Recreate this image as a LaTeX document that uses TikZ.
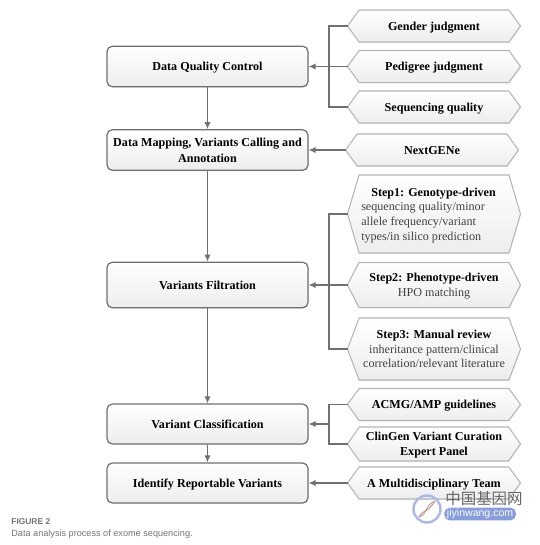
\documentclass[tikz,border=0pt]{standalone}
\usepackage{fontspec}
\setmainfont{Liberation Serif}
\setsansfont{Liberation Sans}
\newfontfamily\cjkfont{Noto Sans CJK SC}
\usetikzlibrary{
    arrows.meta,   % For arrow tips
    shapes.symbols,% For the signal shape
    shadows        % For the box shadows
}
\definecolor{linegray}{RGB}{112,112,112}
\definecolor{edgegray}{RGB}{180,183,183}
\definecolor{markblue}{RGB}{135,155,225}

\begin{document}
\begin{tikzpicture}[
    x=0.02cm, y=-0.02cm,
    >={Latex[length=4pt,width=3.6pt]}, % Set default arrow tip style
    flowbox/.style={draw=linegray, line width=0.7pt, rounded corners=3pt, minimum width=201*0.02cm,
        top color=white, bottom color=black!7, drop shadow={opacity=0.18, shadow xshift=0.3pt, shadow yshift=-0.5pt},
        align=center, inner sep=1pt, text depth=0pt, font=\fontsize{6.9}{9.2}\selectfont\bfseries}, % Style for left boxes
    hexbox/.style={shape=signal, signal from=nowhere, signal to=west and east, draw=edgegray, line width=0.6pt,
        minimum width=173*0.02cm, inner xsep=1pt, inner ysep=0pt, outer sep=0pt, text=black!75,
        top color=white, bottom color=black!7, drop shadow={opacity=0.15, shadow xshift=0.3pt, shadow yshift=-0.5pt},
        align=center, text depth=0pt, font=\fontsize{6.9}{8.4}\selectfont}, % Style for right boxes
    flow/.style={->, draw=linegray, line width=0.7pt}, % Style for connectors
    trunk/.style={draw=linegray, line width=0.7pt}, % Style for the bracket lines
    captionstyle/.style={anchor=west, inner sep=0pt, text=black!55, font=\sffamily\fontsize{5.2}{6}\selectfont}
]
    \useasboundingbox (0,0) rectangle (539,545);

    % Left column
    \node[flowbox, minimum height=40.5*0.02cm] (qc) at (207.5,66.5) {Data Quality Control};
    \node[flowbox, minimum height=40.5*0.02cm] (mapping) at (207.5,150) {Data Mapping, Variants Calling and\\Annotation};
    \node[flowbox, minimum height=45.5*0.02cm] (filtration) at (207.5,285) {Variants Filtration};
    \node[flowbox, minimum height=40*0.02cm] (classification) at (207.5,424) {Variant Classification};
    \node[flowbox, minimum height=40*0.02cm] (reportable) at (207.5,483) {Identify Reportable Variants};

    % Right column
    \node[hexbox, minimum height=32*0.02cm, signal pointer angle=108] (gender) at (434,26) {\bfseries\color{black}Gender judgment};
    \node[hexbox, minimum height=32*0.02cm, signal pointer angle=108] (pedigree) at (434,66.5) {\bfseries\color{black}Pedigree judgment};
    \node[hexbox, minimum height=32*0.02cm, signal pointer angle=108] (seqquality) at (434,107) {\bfseries\color{black}Sequencing quality};
    \node[hexbox, minimum height=32*0.02cm, signal pointer angle=108] (nextgene) at (432,150) {\bfseries\color{black}NextGENe};
    \node[hexbox, minimum height=78*0.02cm, signal pointer angle=147, align=left] (step1) at (434,214) {\hspace*{5.7pt}{\bfseries\color{black}Step1: Genotype-driven}\hspace*{6.2pt}\\sequencing quality/minor\\allele frequency/variant\\types/in silico prediction};
    \node[hexbox, minimum height=45*0.02cm, signal pointer angle=126] (step2) at (434,285) {{\bfseries\color{black}Step2: Phenotype-driven}\\HPO matching};
    \node[hexbox, minimum height=62*0.02cm, signal pointer angle=139] (step3) at (434,349) {{\bfseries\color{black}Step3: Manual review}\\inheritance pattern/clinical\\correlation/relevant literature};
    \node[hexbox, minimum height=32*0.02cm, signal pointer angle=108] (acmg) at (434,404.5) {\bfseries\color{black}ACMG/AMP guidelines};
    \node[hexbox, minimum height=34*0.02cm, signal pointer angle=110] (clingen) at (434,444) {\bfseries\color{black}ClinGen Variant Curation\\\bfseries\color{black}Expert Panel};
    \node[hexbox, minimum height=32*0.02cm, signal pointer angle=108] (team) at (434,483) {\bfseries\color{black}A Multidisciplinary Team};

    % Join points
    \coordinate (qcjoin) at (329,66.5);
    \coordinate (filtjoin) at (329,285);
    \coordinate (classjoin) at (329,424);

    % Down the left column
    \draw[flow] (qc) -- (mapping);
    \draw[flow] (mapping) -- (filtration);
    \draw[flow] (filtration) -- (classification);
    \draw[flow] (classification) -- (reportable);

    % Into the left column
    \draw[trunk] (gender.west) -| (qcjoin) |- (seqquality.west);
    \draw[flow] (pedigree.west) -- (qc.east);
    \draw[flow] (nextgene.west) -- (mapping.east);
    \draw[trunk] (step1.west) -| (filtjoin) |- (step3.west);
    \draw[flow] (step2.west) -- (filtration.east);
    \draw[trunk] (acmg.west) -| (classjoin) |- (clingen.west);
    \draw[flow] (classjoin) -- (classification.east);
    \draw[flow] (team.west) -- (reportable.east);

    % Caption
    \node[captionstyle, font=\sffamily\bfseries\fontsize{4.8}{6}\selectfont] (figlabel) at (11,522) {FIGURE 2};
    \node[captionstyle] (figcaption) at (11,534) {Data analysis process of exome sequencing.};

    % Site mark
    \node[circle, draw=markblue!70, line width=1.4pt, minimum size=27*0.02cm, inner sep=0pt] (markring) at (427,509) {};
    \draw[red!45!black!45, line width=0.5pt] (419,517) .. controls (424,508) and (426,515) .. (435,501);
    \draw[red!45!black!45, line width=0.5pt] (419,517) .. controls (428,514) and (424,506) .. (435,501);
    \node[anchor=west, inner sep=0pt, text=black!60, font=\cjkfont\fontsize{8.8}{9}\selectfont] (marktitle) at (445,499) {中国基因网};
    \node[anchor=west, fill=markblue, rounded corners=3pt, inner xsep=1.5pt, inner ysep=0.8pt, text=white, font=\sffamily\fontsize{6}{7}\selectfont] (markurl) at (444,514) {jiyinwang.com};
\end{tikzpicture}
\end{document}
